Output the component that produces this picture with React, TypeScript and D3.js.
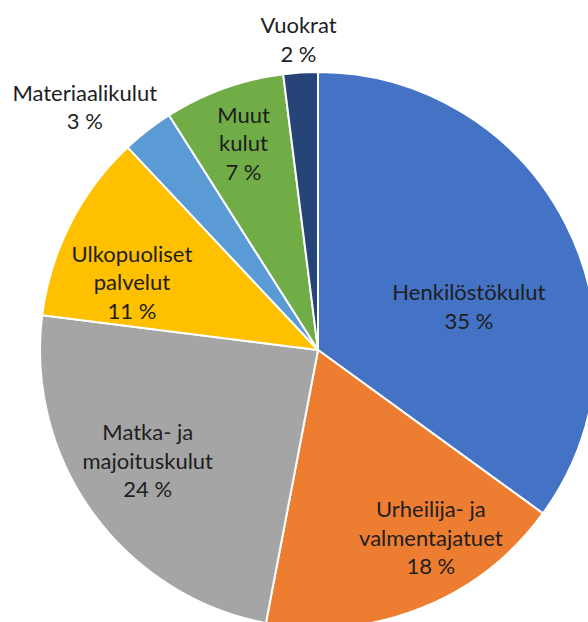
import React from "react";
import * as d3 from "d3";

// cost breakdown, clockwise from 12 o'clock
const categories = [
  "Henkilöstökulut",
  "Urheilija- ja valmentajatuet",
  "Matka- ja majoituskulut",
  "Ulkopuoliset palvelut",
  "Materiaalikulut",
  "Muut kulut",
  "Vuokrat",
];
const shares = [35, 18, 24, 11, 3, 7, 2];
// how the label text wraps in the picture
const labelLines = [
  ["Henkilöstökulut"],
  ["Urheilija- ja", "valmentajatuet"],
  ["Matka- ja", "majoituskulut"],
  ["Ulkopuoliset", "palvelut"],
  ["Materiaalikulut"],
  ["Muut", "kulut"],
  ["Vuokrat"],
];
const colors = ["#4472C4", "#ED7D31", "#A5A5A5", "#FFC000", "#5B9BD5", "#70AD47", "#264478"];

const W = 588;
const H = 622;
const cx = 318;
const cy = 350;
const R = 278;

// label placement: distance from centre, and turn (deg) away from the slice middle
const labelRadius = [157, 219, 203, 198, 337, 220, 311];
const labelTurn = [11, -9.4, 3, -7, -6, 0, 0];

const LH = 28.5;
const CAP = 16;

export default function App() {
  const data = categories.map((name, i) => ({ name, value: shares[i], i }));
  const pie = d3.pie<any>().value(d => d.value).sort(null);
  const arcs = pie(data);
  const arc = d3.arc<any>().innerRadius(0).outerRadius(R);

  return (
    <svg width={W} height={H} style={{ position: "absolute", left: 0, top: 0, background: "#fff" }}>
      <g transform={`translate(${cx},${cy})`}>
        {arcs.map(a => (
          <path key={a.data.name} d={arc(a) || ""} fill={colors[a.data.i]} stroke="#fff" strokeWidth={2} />
        ))}
        {arcs.map(a => {
          const i = a.data.i;
          const mid = (a.startAngle + a.endAngle) / 2 + (labelTurn[i] * Math.PI) / 180;
          const r = labelRadius[i];
          const x = Math.sin(mid) * r;
          const y = -Math.cos(mid) * r;
          const lines = [...labelLines[i], `${shares[i]} %`];
          const y0 = y - (CAP + (lines.length - 1) * LH) / 2 + CAP;
          return (
            <text
              key={"l" + a.data.name}
              x={x}
              y={y0}
              textAnchor="middle"
              fontFamily="Lato, 'Open Sans', sans-serif"
              fontSize={22}
              fill="#1e1e1e"
            >
              {lines.map((t, k) => (
                <tspan key={k} x={x} y={y0 + k * LH}>{t}</tspan>
              ))}
            </text>
          );
        })}
      </g>
    </svg>
  );
}
